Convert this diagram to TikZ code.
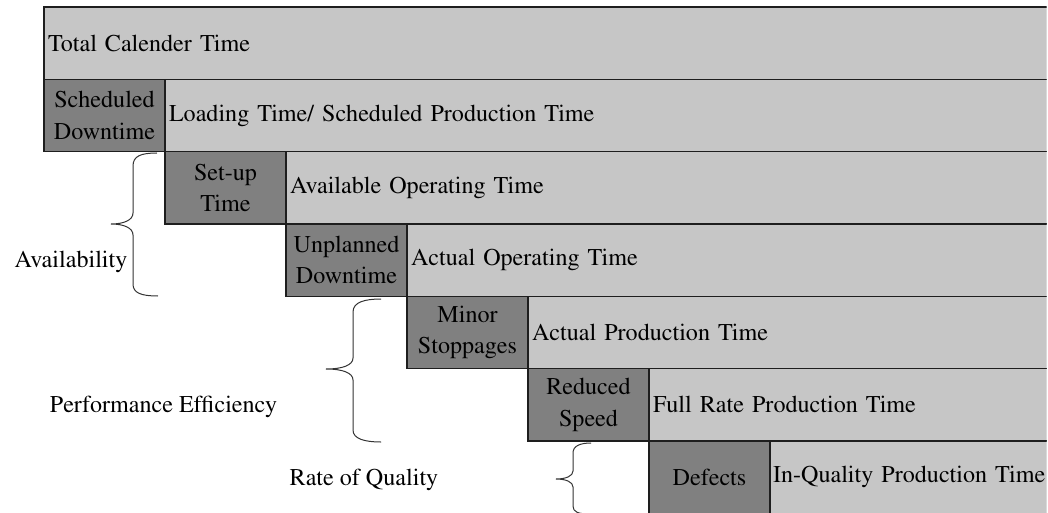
\documentclass[tikz,border=0pt]{standalone}
\usepackage[T1]{fontenc}
\renewcommand{\rmdefault}{ptm}
\definecolor{edge}{HTML}{1E1E1E}
\definecolor{lightcell}{HTML}{C6C6C6}
\definecolor{darkcell}{HTML}{808080}
\definecolor{bracecol}{HTML}{333333}
\begin{document}
\begin{tikzpicture}[x=1pt,y=-1pt,
  every node/.style={font=\rmfamily\fontsize{24.1pt}{31.5pt}\selectfont, text=black},
  cell/.style={draw=edge, line width=1.3pt, anchor=north west,
    minimum height=72.33pt, inner ysep=0pt, outer sep=0pt},
  lost/.style={cell, fill=darkcell, minimum width=121pt, inner xsep=0pt,
    text width=121pt, align=center},
  remain/.style={cell, fill=lightcell, align=left, inner xsep=4pt},
  brace/.style={draw=bracecol, line width=1pt},
  note/.style={inner sep=0pt}
]
\useasboundingbox (0,0) rectangle (1048,513);
\begin{scope}
\clip (0,0) rectangle (1046.5,513);
% row 1
\node[remain, minimum width=1006pt, text width=998pt] (total) at (44,7) {Total Calender Time};
% row 2
\node[lost] (sched) at (44,79.33) {Scheduled\\Downtime};
\node[remain, minimum width=885pt, text width=877pt] (loading) at (165,79.33) {Loading Time/ Scheduled Production Time};
% row 3
\node[lost] (setup) at (165,151.67) {Set-up\\Time};
\node[remain, minimum width=764pt, text width=756pt] (avail) at (286,151.67) {Available Operating Time};
% row 4
\node[lost] (unplanned) at (286,224) {Unplanned\\Downtime};
\node[remain, minimum width=643pt, text width=635pt] (actop) at (407,224) {Actual Operating Time};
% row 5
\node[lost] (minor) at (407,296.33) {Minor\\Stoppages};
\node[remain, minimum width=522pt, text width=514pt] (actprod) at (528,296.33) {Actual Production Time};
% row 6
\node[lost] (reduced) at (528,368.67) {Reduced\\Speed};
\node[remain, minimum width=401pt, text width=393pt] (fullrate) at (649,368.67) {Full Rate Production Time};
% row 7 (runs past the lower edge)
\node[lost] (defects) at (649,441) {Defects};
\node[remain, inner xsep=3pt, minimum width=290pt, text width=284pt] (inquality) at (770,441) {In-Quality Production Time};

% braces grouping the losses
\draw[brace] (157,153) .. controls (141,153) and (133,156) .. (133,166)
  -- (133,213) .. controls (133,220) and (124,224) .. (111,224)
  .. controls (124,224) and (133,228) .. (133,235)
  -- (133,284) .. controls (133,293) and (141,296) .. (158,296);
\draw[brace] (381,299) .. controls (365,299) and (353,302) .. (353,312)
  -- (353,358) .. controls (353,365) and (343,369) .. (326,369)
  .. controls (343,369) and (353,373) .. (353,380)
  -- (353,430) .. controls (353,439) and (365,442) .. (381,442);
\draw[brace] (591,443) .. controls (580,443) and (573,446) .. (573,453)
  -- (573,471) .. controls (573,476) and (566,479) .. (556,479)
  .. controls (566,479) and (573,482) .. (573,487)
  -- (573,506) .. controls (573,512) and (578,514) .. (590,514);
\end{scope}

\node[note] (lblavail) at (71,262) {Availability};
\node[note] (lblperf) at (163.5,407) {Performance Efficiency};
\node[note] (lblqual) at (364,480) {Rate of Quality};
\end{tikzpicture}
\end{document}
